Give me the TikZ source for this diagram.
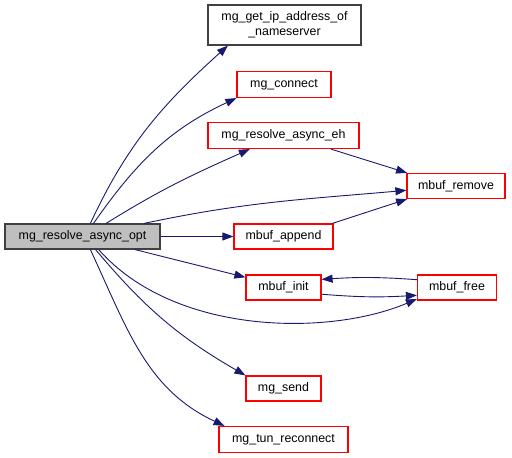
\documentclass[tikz,border=0pt]{standalone}
\usepackage{fontspec}
\setmainfont{Liberation Sans}
\usetikzlibrary{arrows.meta}
\definecolor{edgeblue}{HTML}{191970}
\definecolor{linkred}{HTML}{FF0000}
\definecolor{plaingray}{HTML}{404040}
\definecolor{rootfill}{HTML}{BFBFBF}

\begin{document}
\begin{tikzpicture}[x=1pt, y=1pt,
    fn/.style={draw=linkred, line width=1.2pt, rectangle, inner sep=0pt,
        minimum height=25pt, font=\fontsize{12.4}{15}\selectfont, align=center},
    call/.style={draw=edgeblue, line width=0.9pt,
        -{Triangle[length=11pt, width=8pt, fill=edgeblue]}}]
    \useasboundingbox (0,0) rectangle (512,458);

    % Root function
    \node[fn, draw=plaingray, fill=rootfill, minimum width=155pt] (opt) at (82.5,221.5) {mg\_resolve\_async\_opt};

    % Called functions
    \node[fn, draw=plaingray, minimum width=153pt, minimum height=40pt] (getip) at (284.5,433) {mg\_get\_ip\_address\_of\\\_nameserver};
    \node[fn, minimum width=94pt, minimum height=26pt] (connect) at (284,373.5) {mg\_connect};
    \node[fn, minimum width=151pt, minimum height=26pt] (eh) at (283.5,322.5) {mg\_resolve\_async\_eh};
    \node[fn, minimum width=98pt] (remove) at (456,272) {mbuf\_remove};
    \node[fn, minimum width=99pt] (append) at (283.5,221.5) {mbuf\_append};
    \node[fn, minimum width=75pt] (init) at (283.5,170.5) {mbuf\_init};
    \node[fn, minimum width=79pt] (free) at (457,170.5) {mbuf\_free};
    \node[fn, minimum width=75pt] (send) at (283.5,69.5) {mg\_send};
    \node[fn, minimum width=129pt, minimum height=26pt] (tun) at (283.5,18.5) {mg\_tun\_reconnect};

    % Calls from the root
    \draw[call] (opt.59) to[out=65, in=222] (getip.200);
    \draw[call] (opt.50) to[out=55, in=205] (connect.south west);
    \draw[call] (opt.29) to[out=32, in=204] (eh.202);
    \draw[call] (opt.12) to[out=12, in=185] (remove.185);
    \draw[call] (opt) -- (append);
    \draw[call] (opt.-14) -- (init.165);
    \draw[call] (opt.-39) .. controls (175,122) and (330,122) .. (free.196);
    \draw[call] (opt.-45) to[out=-50, in=150] (send.161);
    \draw[call] (opt.-59) to[out=-65, in=155] (tun.167);

    % Calls between the others
    \draw[call] (eh.-16) -- (remove.165);
    \draw[call] (append.15) -- (remove.195);
    \draw[call] (init.-10) to[bend right=4] (free.191);
    \draw[call] (free.169) to[bend right=4] (init.12);
\end{tikzpicture}
\end{document}
